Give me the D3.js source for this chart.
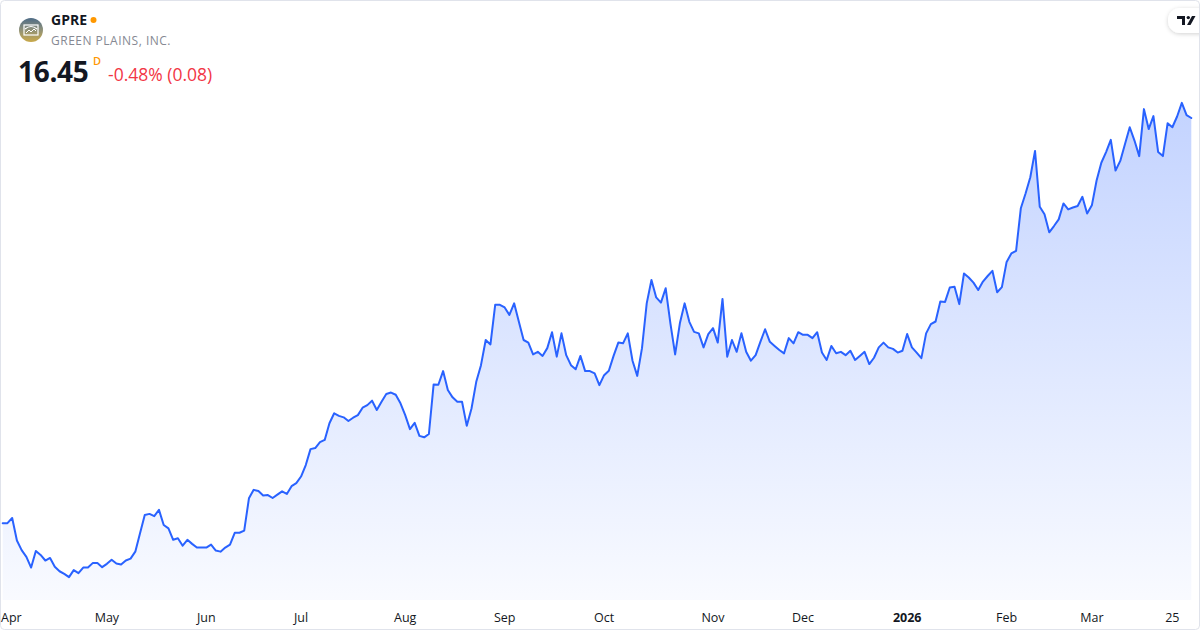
<!DOCTYPE html>
<html>
<head>
<meta charset="utf-8">
<script src="https://cdn.jsdelivr.net/npm/d3@7/dist/d3.min.js"></script>
<style>
  html, body { margin: 0; padding: 0; background: #ffffff; }
  svg { display: block; font-family: "Open Sans", "Noto Sans", sans-serif; }
</style>
</head>
<body>
<svg id="chart" width="1200" height="630"></svg>
<script>
// ---- Data (daily closes, GPRE, Mar 31 2025 -> Mar 30 2026) ----
const symbol = "GPRE";
const companyName = "GREEN PLAINS, INC.";
const lastPrice = "16.45";
const changeText = "-0.48% (0.08)";
const intervalLabel = "D";

const closes = [
  5.50, 5.50, 5.64, 5.03, 4.77, 4.59, 4.30, 4.75, 4.64, 4.49,
  4.56, 4.32, 4.20, 4.13, 4.04, 4.23, 4.15, 4.30, 4.30, 4.42,
  4.42, 4.31, 4.40, 4.51, 4.41, 4.38, 4.49, 4.54, 4.73, 5.23,
  5.72, 5.75, 5.69, 5.86, 5.45, 5.36, 5.05, 5.09, 4.89, 5.05,
  4.94, 4.84, 4.84, 4.84, 4.92, 4.76, 4.73, 4.84, 4.92, 5.24,
  5.24, 5.30, 6.17, 6.40, 6.37, 6.25, 6.26, 6.18, 6.27, 6.36,
  6.29, 6.50, 6.58, 6.76, 7.07, 7.50, 7.53, 7.69, 7.75, 8.20,
  8.47, 8.40, 8.36, 8.26, 8.35, 8.42, 8.62, 8.69, 8.81, 8.56,
  8.78, 8.99, 9.03, 8.97, 8.74, 8.42, 8.04, 8.21, 7.86, 7.82,
  7.91, 9.25, 9.24, 9.61, 9.10, 8.90, 8.78, 8.78, 8.13, 8.60,
  9.32, 9.77, 10.45, 10.33, 11.40, 11.40, 11.33, 11.13, 11.44, 10.94,
  10.45, 10.38, 10.06, 10.13, 10.02, 10.23, 10.66, 10.00, 10.63, 10.04,
  9.77, 9.66, 10.02, 9.61, 9.61, 9.55, 9.23, 9.50, 9.62, 10.02,
  10.38, 10.36, 10.63, 9.89, 9.48, 10.23, 11.44, 12.07, 11.60, 11.46,
  11.85, 10.90, 10.06, 10.90, 11.44, 10.94, 10.67, 10.63, 10.25, 10.61,
  10.77, 10.38, 11.56, 10.00, 10.45, 10.13, 10.63, 10.13, 9.89, 10.04,
  10.40, 10.74, 10.40, 10.29, 10.18, 10.09, 10.50, 10.36, 10.66, 10.59,
  10.59, 10.50, 10.66, 10.11, 9.91, 10.29, 10.09, 10.13, 10.04, 10.16,
  9.91, 10.02, 10.13, 9.80, 9.97, 10.25, 10.38, 10.25, 10.21, 10.11,
  10.16, 10.61, 10.25, 10.11, 9.96, 10.63, 10.88, 10.95, 11.49, 11.48,
  11.87, 11.89, 11.42, 12.25, 12.14, 12.00, 11.80, 12.03, 12.18, 12.32,
  11.74, 11.88, 12.56, 12.79, 12.86, 14.01, 14.41, 14.85, 15.56, 14.05,
  13.85, 13.36, 13.53, 13.71, 14.14, 13.98, 14.03, 14.07, 14.32, 13.87,
  14.09, 14.76, 15.24, 15.53, 15.86, 15.03, 15.29, 15.75, 16.20, 15.84,
  15.42, 16.69, 16.15, 16.50, 15.53, 15.42, 16.31, 16.20, 16.49, 16.86,
  16.53, 16.45
];

// time-axis labels: index of the bar where each label sits
const tickIndex = [1, 22, 43, 63, 85, 106, 127, 150, 169, 191, 212, 230, 247];
const tickLabels = ["Apr", "May", "Jun", "Jul", "Aug", "Sep", "Oct", "Nov", "Dec", "2026", "Feb", "Mar", "25"];
const tickBold = [false, false, false, false, false, false, false, false, false, true, false, false, false];

// ---- Layout ----
const W = 1200, H = 630;
const paneBottom = 600;
const svg = d3.select("#chart");

const x = d3.scaleLinear().domain([0, closes.length - 1]).range([2.7, 1191.3]);
const y = d3.scaleLinear().domain([4, 17]).range([578.65, 97.65]);

const defs = svg.append("defs");
const grad = defs.append("linearGradient")
  .attr("id", "areaGrad").attr("gradientUnits", "userSpaceOnUse")
  .attr("x1", 0).attr("x2", 0).attr("y1", y(d3.max(closes))).attr("y2", paneBottom);
grad.append("stop").attr("offset", "0%").attr("stop-color", "#2962FF").attr("stop-opacity", 0.28);
grad.append("stop").attr("offset", "100%").attr("stop-color", "#2962FF").attr("stop-opacity", 0.03);

const logoGrad = defs.append("linearGradient").attr("id", "logoGrad")
  .attr("x1", 0).attr("x2", 0).attr("y1", 0).attr("y2", 1);
logoGrad.append("stop").attr("offset", "0%").attr("stop-color", "#4d6b86");
logoGrad.append("stop").attr("offset", "45%").attr("stop-color", "#8a8f7c");
logoGrad.append("stop").attr("offset", "100%").attr("stop-color", "#c9a94a");

const shadow = defs.append("filter").attr("id", "shadow")
  .attr("x", "-50%").attr("y", "-50%").attr("width", "200%").attr("height", "200%");
shadow.append("feDropShadow").attr("dx", 0).attr("dy", 1).attr("stdDeviation", 2)
  .attr("flood-color", "#000").attr("flood-opacity", 0.18);

// background + frame
svg.append("rect").attr("x", 0.5).attr("y", 0.5).attr("width", W - 1).attr("height", H - 1)
  .attr("rx", 4).attr("fill", "#ffffff").attr("stroke", "#e0e3eb");

// area + line
const area = d3.area().x((d, i) => x(i)).y0(paneBottom).y1(d => y(d));
const line = d3.line().x((d, i) => x(i)).y(d => y(d));

svg.append("path").datum(closes).attr("d", area).attr("fill", "url(#areaGrad)");
svg.append("path").datum(closes).attr("d", line)
  .attr("fill", "none").attr("stroke", "#2962FF").attr("stroke-width", 2)
  .attr("stroke-linejoin", "round").attr("stroke-linecap", "round");

// time axis labels
const axisG = svg.append("g");
tickIndex.forEach((ti, k) => {
  const t = axisG.append("text")
    .attr("y", 622)
    .attr("font-size", 12.5)
    .attr("fill", "#131722")
    .attr("font-weight", tickBold[k] ? 700 : 400)
    .text(tickLabels[k]);
  if (k === 0) { t.attr("x", 1).attr("text-anchor", "start"); }
  else { t.attr("x", x(ti)).attr("text-anchor", "middle"); }
});

// header
const hdr = svg.append("g");
hdr.append("circle").attr("cx", 31).attr("cy", 30).attr("r", 12).attr("fill", "url(#logoGrad)");
hdr.append("rect").attr("x", 24).attr("y", 25).attr("width", 14).attr("height", 10)
  .attr("fill", "none").attr("stroke", "#ffffff").attr("stroke-width", 1.2);
hdr.append("path").attr("d", "M25 29 Q31 24 37 29").attr("fill", "none").attr("stroke", "#ffffff").attr("stroke-width", 1.2);
hdr.append("path").attr("d", "M26 33 L29 30 L31 32 L34 29 L36 31").attr("fill", "none").attr("stroke", "#ffffff").attr("stroke-width", 1);

hdr.append("text").attr("x", 51).attr("y", 25).attr("font-size", 14).attr("font-weight", 700)
  .attr("fill", "#131722").text(symbol);
hdr.append("circle").attr("cx", 93.5).attr("cy", 20).attr("r", 3).attr("fill", "#FF9800");
hdr.append("text").attr("x", 51).attr("y", 45).attr("font-size", 12).attr("fill", "#868993")
  .attr("letter-spacing", 0.5).text(companyName);
hdr.append("text").attr("x", 18).attr("y", 82).attr("font-size", 28).attr("font-weight", 700)
  .attr("letter-spacing", -0.3).attr("fill", "#131722").text(lastPrice);
hdr.append("text").attr("x", 93).attr("y", 65).attr("font-size", 11).attr("font-weight", 600)
  .attr("fill", "#FF9800").text(intervalLabel);
hdr.append("text").attr("x", 108).attr("y", 81).attr("font-size", 17.5)
  .attr("fill", "#F23645").text(changeText);

// TradingView badge (top right)
const tv = svg.append("g");
tv.append("rect").attr("x", 1168).attr("y", 8).attr("width", 46).attr("height", 25).attr("rx", 12)
  .attr("fill", "#ffffff").attr("filter", "url(#shadow)");
tv.append("path").attr("d", "M1177 16 H1185 V25 H1182 V19 H1177 Z").attr("fill", "#131722");
tv.append("circle").attr("cx", 1188.3).attr("cy", 17.6).attr("r", 1.7).attr("fill", "#131722");
tv.append("path").attr("d", "M1192 16 H1195.5 L1190.5 25 H1187 Z").attr("fill", "#131722");
svg.append("line").attr("x1", 1199.5).attr("x2", 1199.5).attr("y1", 4).attr("y2", 626)
  .attr("stroke", "#e0e3eb");
</script>
</body>
</html>
